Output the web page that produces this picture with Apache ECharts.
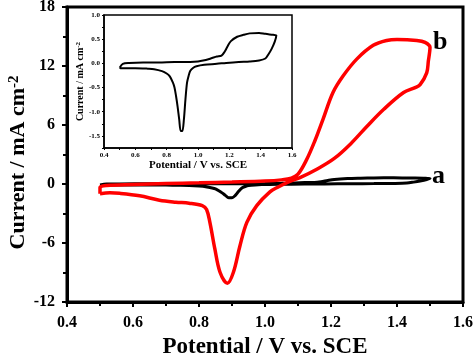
<!DOCTYPE html>
<html>
<head>
<meta charset="utf-8">
<script src="https://cdn.jsdelivr.net/npm/echarts@6/dist/echarts.min.js"></script>
<style>
    body { margin: 0; background: #fff; }
    #chart { width: 474px; height: 354px; }
</style>
</head>
<body>
<div id="chart"></div>
<script>
// curve a (black) - potential / V, current / mA cm-2
var potentialA = [0.50,0.52,0.56,0.65,0.75,0.85,0.95,1.00,1.05,1.09,1.12,1.15,1.17,1.19,1.21,1.25,1.29,1.33,1.39,1.43,1.48,1.50,
    1.50,1.49,1.47,1.45,1.43,1.39,1.33,1.26,1.18,1.12,1.04,0.99,0.97,0.95,0.94,0.93,0.92,0.91,0.90,0.89,0.88,0.87,0.86,0.85,0.84,0.82,0.80,0.77,0.72,0.68,0.60,0.55,0.51,0.50];
var currentA = [-0.09,-0.01,0.01,0.02,0.02,0.03,0.03,0.04,0.07,0.11,0.14,0.16,0.24,0.36,0.46,0.55,0.59,0.62,0.63,0.61,0.59,0.58,
    0.57,0.45,0.30,0.19,0.10,0.06,0.04,0.03,0.01,-0.01,-0.03,-0.06,-0.09,-0.16,-0.26,-0.40,-0.74,-1.16,-1.40,-1.40,-1.16,-0.90,-0.68,-0.50,-0.40,-0.27,-0.21,-0.16,-0.12,-0.11,-0.10,-0.10,-0.10,-0.09];

// curve b (red)
var potentialB = [0.50,0.50,0.52,0.60,0.70,0.80,0.90,1.00,1.05,1.08,1.10,1.125,1.15,1.176,1.206,1.237,1.278,1.328,1.369,1.40,1.46,1.485,1.50,
    1.495,1.49,1.47,1.455,1.42,1.36,1.31,1.26,1.21,1.157,1.106,1.07,1.04,1.015,0.975,0.945,0.924,0.904,0.886,0.864,0.848,0.833,0.823,0.81,0.77,0.73,0.68,0.62,0.56,0.53,0.50];
var currentB = [-1.0,-0.35,-0.15,-0.05,0.05,0.12,0.2,0.3,0.42,0.6,1.0,2.4,4.3,6.6,9.3,11.0,12.7,14.1,14.6,14.7,14.6,14.4,13.9,
    12.5,11.3,10.1,9.8,9.3,7.6,5.9,4.1,2.6,1.5,0.65,0.2,-0.3,-0.8,-2.2,-3.9,-6.3,-9.0,-10.1,-9.0,-6.6,-3.9,-2.6,-2.2,-1.95,-1.85,-1.65,-1.2,-0.95,-0.9,-1.0];

var xTicks = [0.4, 1.6, 0.2];        // min, max, step
var yTicks = [-12, 18, 6];
var insetYTicks = [-1.75, 1.0, 0.25];

function pairs(xs, ys) {
    var out = [];
    for (var i = 0; i < xs.length; i++) out.push([xs[i], ys[i]]);
    return out;
}

var serif = 'Liberation Serif';
var chart = echarts.init(document.getElementById('chart'));

chart.setOption({
    animation: false,
    grid: [
        { left: 67, right: 11, top: 7, bottom: 52, show: true, borderColor: '#000', borderWidth: 3, outerBoundsMode: 'none' },
        { left: 104, right: 182, top: 15, bottom: 206, show: true, borderColor: '#000', borderWidth: 1.5, backgroundColor: '#fff', z: 5, outerBoundsMode: 'none' }
    ],
    xAxis: [
        {
            type: 'value', gridIndex: 0, min: xTicks[0], max: xTicks[1], interval: xTicks[2],
            name: 'Potential / V vs. SCE', nameLocation: 'middle', nameGap: 34, nameMoveOverlap: false,
            nameTextStyle: { fontFamily: serif, fontWeight: 'bold', fontSize: 23, color: '#000' },
            axisLine: { onZero: false, lineStyle: { color: '#000', width: 3 } },
            axisTick: { length: 5, lineStyle: { width: 2, color: '#000' } },
            minorTick: { show: true, splitNumber: 2, length: 4, lineStyle: { width: 2, color: '#000' } },
            axisLabel: { margin: 13, fontFamily: serif, fontWeight: 'bold', fontSize: 16, color: '#000',
                formatter: function (v) { return v.toFixed(1); } },
            splitLine: { show: false }
        },
        {
            type: 'value', gridIndex: 1, min: xTicks[0], max: xTicks[1], interval: xTicks[2],
            name: 'Potential / V vs. SCE', nameLocation: 'middle', nameGap: 11,
            nameTextStyle: { fontFamily: serif, fontWeight: 'bold', fontSize: 11, color: '#000' },
            axisLine: { onZero: false, lineStyle: { color: '#000', width: 1.5 } },
            axisTick: { length: 2, lineStyle: { color: '#000' } },
            minorTick: { show: true, splitNumber: 2, length: 2, lineStyle: { color: '#000' } },
            axisLabel: { margin: 4, fontFamily: serif, fontWeight: 'bold', fontSize: 7, color: '#000',
                formatter: function (v) { return v.toFixed(1); } },
            splitLine: { show: false }, z: 6
        }
    ],
    yAxis: [
        {
            type: 'value', gridIndex: 0, min: yTicks[0], max: yTicks[1], interval: yTicks[2],
            name: '{t|Current / mA cm}{s|-2}', nameLocation: 'middle', nameRotate: 90, nameGap: 38, nameMoveOverlap: false,
            nameTextStyle: {
                color: '#000',
                padding: [0, 16, 0, 0],
                rich: {
                    t: { fontFamily: serif, fontWeight: 'bold', fontSize: 22, color: '#000' },
                    s: { fontFamily: serif, fontWeight: 'bold', fontSize: 15, color: '#000', verticalAlign: 'top' }
                }
            },
            axisLine: { onZero: false, lineStyle: { color: '#000', width: 3 } },
            axisTick: { length: 5, lineStyle: { width: 2, color: '#000' } },
            minorTick: { show: true, splitNumber: 2, length: 4, lineStyle: { width: 2, color: '#000' } },
            axisLabel: { margin: 12, fontFamily: serif, fontWeight: 'bold', fontSize: 16, color: '#000' },
            splitLine: { show: false }
        },
        {
            type: 'value', gridIndex: 1, min: insetYTicks[0], max: insetYTicks[1], interval: insetYTicks[2],
            name: '{t|Current / mA cm}{s|-2}', nameLocation: 'middle', nameRotate: 90, nameGap: 19,
            nameTextStyle: {
                color: '#000',
                rich: {
                    t: { fontFamily: serif, fontWeight: 'bold', fontSize: 10, color: '#000' },
                    s: { fontFamily: serif, fontWeight: 'bold', fontSize: 7, color: '#000', verticalAlign: 'top' }
                }
            },
            axisLine: { onZero: false, lineStyle: { color: '#000', width: 1.5 } },
            axisTick: { length: 2, lineStyle: { color: '#000' } },
            axisLabel: { margin: 4, fontFamily: serif, fontWeight: 'bold', fontSize: 7, color: '#000',
                formatter: function (v) {
                    // only label every 0.5
                    if (Math.abs(v * 2 - Math.round(v * 2)) > 1e-6) return '';
                    return v.toFixed(1);
                } },
            splitLine: { show: false }, z: 6
        }
    ],
    graphic: [
        { type: 'text', left: 432, top: 163, style: { text: 'a', font: 'bold 26px "Liberation Serif"', fill: '#000' } },
        { type: 'text', left: 433, top: 29, style: { text: 'b', font: 'bold 26px "Liberation Serif"', fill: '#000' } }
    ],
    series: [
        {
            type: 'line', xAxisIndex: 0, yAxisIndex: 0, data: pairs(potentialA, currentA),
            showSymbol: false, smooth: 0.3, lineStyle: { color: '#000', width: 3 }
        },
        {
            type: 'line', xAxisIndex: 0, yAxisIndex: 0, data: pairs(potentialB, currentB),
            showSymbol: false, smooth: 0.35, lineStyle: { color: '#ff0000', width: 3.5 }
        },
        {
            type: 'line', xAxisIndex: 1, yAxisIndex: 1, data: pairs(potentialA, currentA),
            showSymbol: false, smooth: 0.3, lineStyle: { color: '#000', width: 2 }, z: 7
        }
    ]
});
</script>
</body>
</html>
